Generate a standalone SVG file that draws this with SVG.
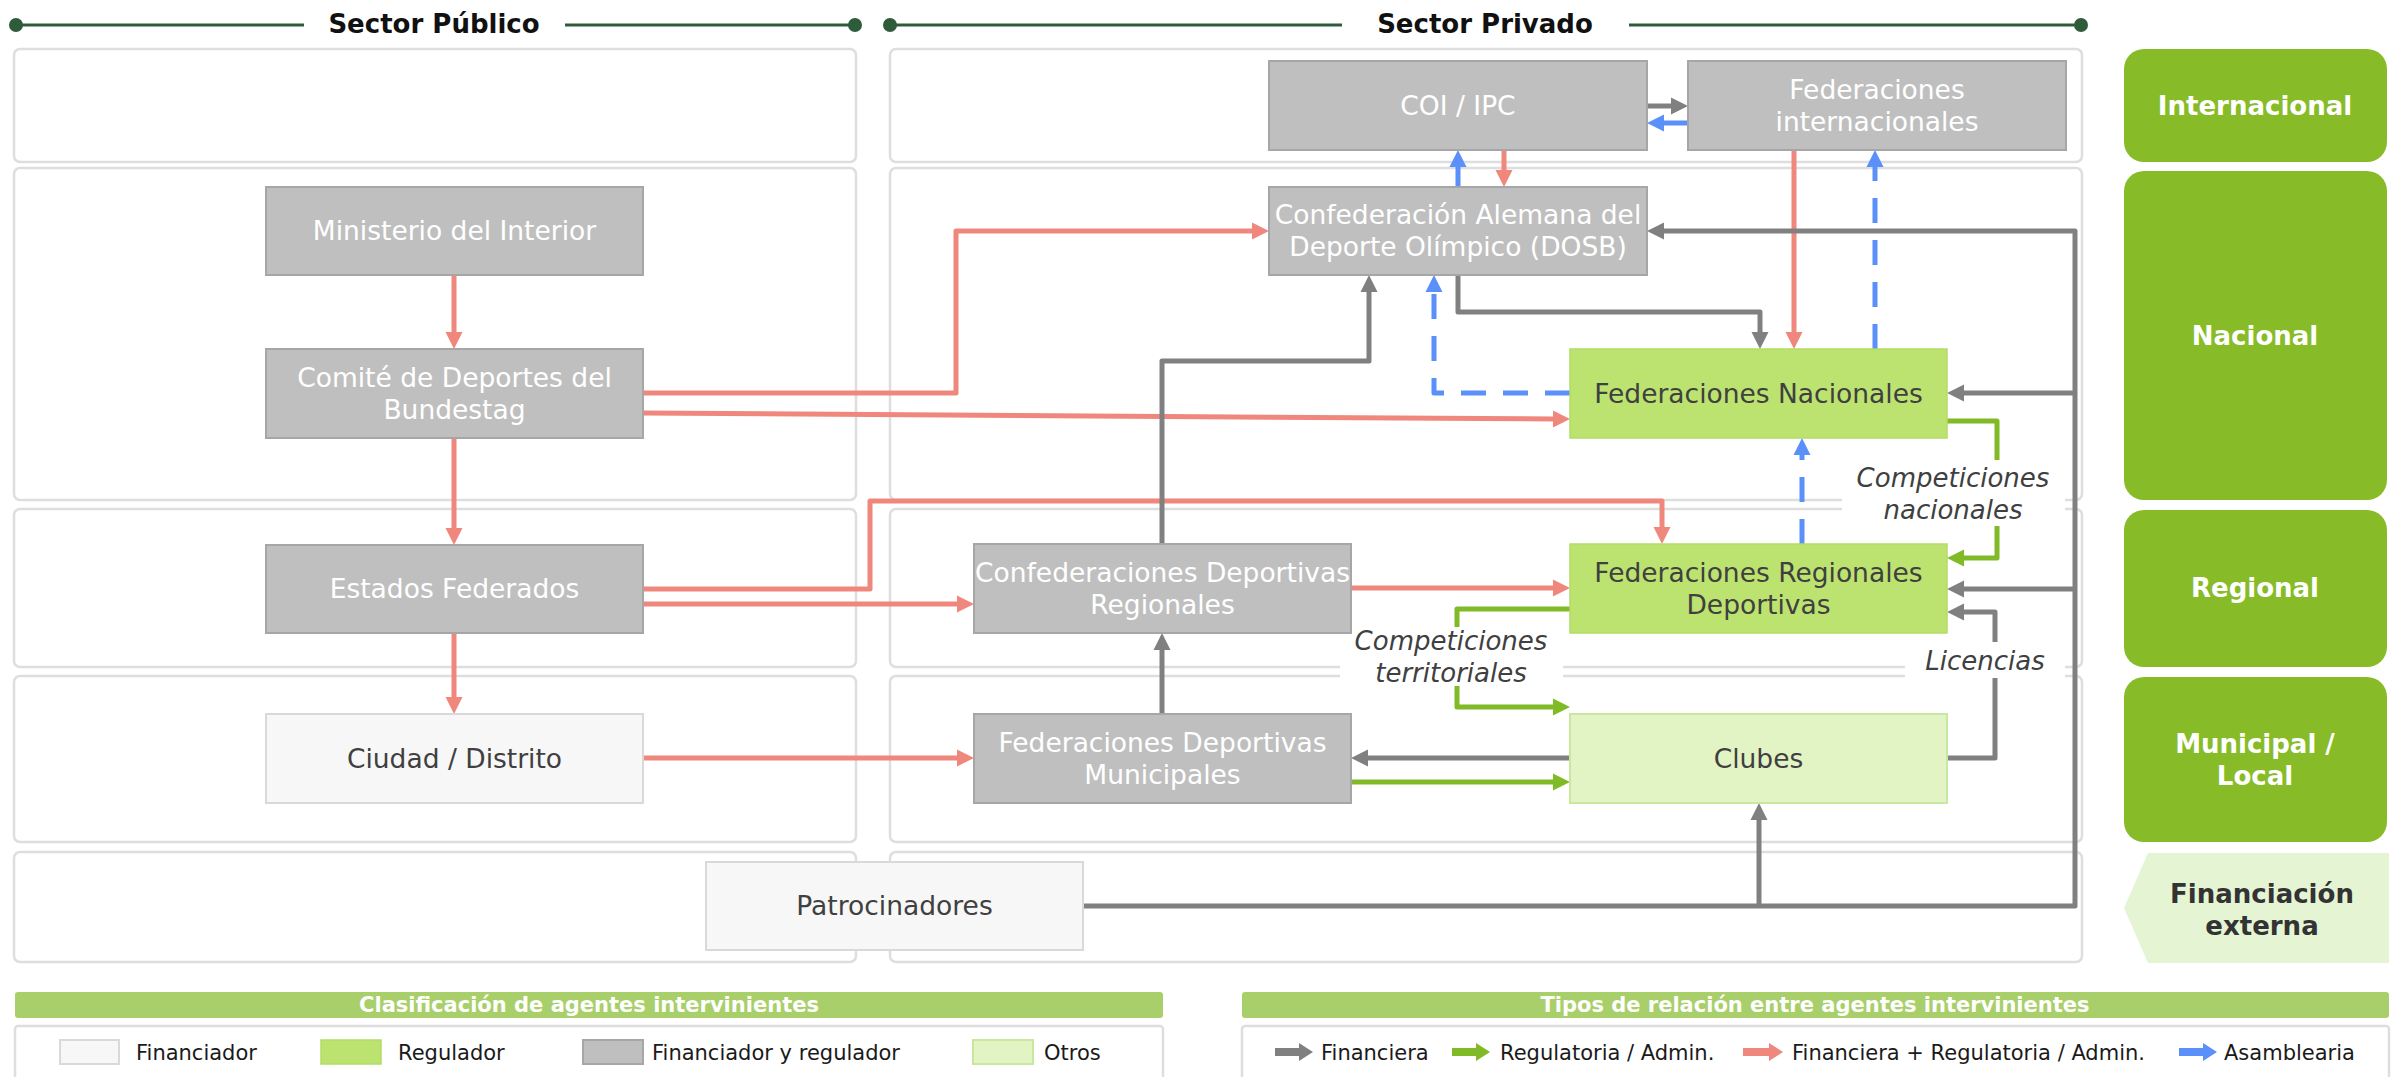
<svg xmlns="http://www.w3.org/2000/svg" width="2399" height="1077" viewBox="0 0 2399 1077">
<style>
text{font-family:"DejaVu Sans","Liberation Sans",sans-serif;}
.hdr{font-size:26px;font-weight:bold;fill:#111;text-anchor:middle;}
.hline{stroke:#2e5c3b;stroke-width:3;}
.hdot{fill:#2e5c3b;}
.sec{fill:#fff;stroke:#dedede;stroke-width:2.5;}
.n{font-size:26.5px;text-anchor:middle;}
.gr rect{fill:#bfbfbf;stroke:#a6a6a6;stroke-width:2;}
.gr text{fill:#fff;}
.fi rect{fill:#f7f7f7;stroke:#d9d9d9;stroke-width:2;}
.fi text{fill:#404040;}
.rg rect{fill:#bce36f;stroke:#b3dc66;stroke-width:1.5;}
.rg text{fill:#404040;}
.ot rect{fill:#e2f3c4;stroke:#c8e89f;stroke-width:2;}
.ot text{fill:#404040;}
.lvl{fill:#87bc28;}
.lvlt{font-size:26px;font-weight:bold;fill:#fff;text-anchor:middle;}
.c{fill:none;stroke-width:5;stroke-linejoin:round;}
.cg{stroke:#808080;}
.cr{stroke:#f0877d;}
.cn{stroke:#80ba27;}
.cb{stroke:#5b8ff9;stroke-dasharray:25 17;}
.lab{font-size:26px;font-style:italic;fill:#404040;text-anchor:middle;}
.lbg{fill:#fff;}
.legbar{fill:#a9cf6a;}
.legh{font-size:21px;font-weight:bold;fill:#fff;text-anchor:middle;}
.legt{font-size:21px;fill:#1a1a1a;}
</style>
<defs>
<marker id="ag" markerUnits="userSpaceOnUse" markerWidth="18" markerHeight="18" viewBox="0 0 18 18" refX="1" refY="9" orient="auto"><path d="M0,0.5 L17,9 L0,17.5 z" fill="#808080"/></marker>
<marker id="ar" markerUnits="userSpaceOnUse" markerWidth="18" markerHeight="18" viewBox="0 0 18 18" refX="1" refY="9" orient="auto"><path d="M0,0.5 L17,9 L0,17.5 z" fill="#f0877d"/></marker>
<marker id="an" markerUnits="userSpaceOnUse" markerWidth="18" markerHeight="18" viewBox="0 0 18 18" refX="1" refY="9" orient="auto"><path d="M0,0.5 L17,9 L0,17.5 z" fill="#80ba27"/></marker>
<marker id="ab" markerUnits="userSpaceOnUse" markerWidth="18" markerHeight="18" viewBox="0 0 18 18" refX="1" refY="9" orient="auto"><path d="M0,0.5 L17,9 L0,17.5 z" fill="#5b8ff9"/></marker>
</defs>
<rect width="2399" height="1077" fill="#fff"/>

<g id="headers">
<line class="hline" x1="16" y1="25" x2="304" y2="25"/><circle class="hdot" cx="16" cy="25" r="7"/>
<text class="hdr" x="434" y="33">Sector Público</text>
<line class="hline" x1="565" y1="25" x2="855" y2="25"/><circle class="hdot" cx="855" cy="25" r="7"/>
<line class="hline" x1="890" y1="25" x2="1342" y2="25"/><circle class="hdot" cx="890" cy="25" r="7"/>
<text class="hdr" x="1485" y="33">Sector Privado</text>
<line class="hline" x1="1629" y1="25" x2="2081" y2="25"/><circle class="hdot" cx="2081" cy="25" r="7"/>
</g>

<g id="sections">
<rect class="sec" x="14" y="49" width="842" height="113" rx="6"/>
<rect class="sec" x="14" y="168" width="842" height="332" rx="6"/>
<rect class="sec" x="14" y="509" width="842" height="158" rx="6"/>
<rect class="sec" x="14" y="676" width="842" height="166" rx="6"/>
<rect class="sec" x="14" y="852" width="842" height="110" rx="6"/>
<rect class="sec" x="890" y="49" width="1192" height="113" rx="6"/>
<rect class="sec" x="890" y="168" width="1192" height="332" rx="6"/>
<rect class="sec" x="890" y="509" width="1192" height="158" rx="6"/>
<rect class="sec" x="890" y="676" width="1192" height="166" rx="6"/>
<rect class="sec" x="890" y="852" width="1192" height="110" rx="6"/>
</g>

<g id="levels">
<rect class="lvl" x="2124" y="49" width="263" height="113" rx="20"/>
<text class="lvlt" x="2255" y="115">Internacional</text>
<rect class="lvl" x="2124" y="171" width="263" height="329" rx="20"/>
<text class="lvlt" x="2255" y="345">Nacional</text>
<rect class="lvl" x="2124" y="510" width="263" height="157" rx="20"/>
<text class="lvlt" x="2255" y="597">Regional</text>
<rect class="lvl" x="2124" y="677" width="263" height="165" rx="20"/>
<text class="lvlt" x="2255" y="753">Municipal /</text>
<text class="lvlt" x="2255" y="785">Local</text>
<polygon points="2148,853 2389,853 2389,963 2148,963 2124,908" fill="#e5f5d3"/>
<text class="lvlt" x="2262" y="903" style="fill:#333">Financiación</text>
<text class="lvlt" x="2262" y="935" style="fill:#333">externa</text>
</g>

<g id="connectors">
<path class="c cr" d="M454,275 V333" marker-end="url(#ar)"/>
<path class="c cr" d="M454,438 V529" marker-end="url(#ar)"/>
<path class="c cr" d="M454,633 V698" marker-end="url(#ar)"/>
<path class="c cr" d="M643,393 H956 V231 H1253" marker-end="url(#ar)"/>
<path class="c cr" d="M643,413 L1554,419" marker-end="url(#ar)"/>
<path class="c cr" d="M643,589 H870 V501 H1662 V528" marker-end="url(#ar)"/>
<path class="c cr" d="M643,604 H958" marker-end="url(#ar)"/>
<path class="c cr" d="M643,758 H958" marker-end="url(#ar)"/>
<path class="c cr" d="M1351,588 H1554" marker-end="url(#ar)"/>
<path class="c cr" d="M1504,150 V171" marker-end="url(#ar)"/>
<path class="c cr" d="M1794,150 V333" marker-end="url(#ar)"/>

<path class="c cg" d="M1647,106 H1672" marker-end="url(#ag)"/>
<path class="c cg" d="M1458,275 V312 H1760 V333" marker-end="url(#ag)"/>
<path class="c cg" d="M1162,544 V361 H1369 V291" marker-end="url(#ag)"/>
<path class="c cg" d="M1162,714 V649" marker-end="url(#ag)"/>
<path class="c cg" d="M1570,758 H1367" marker-end="url(#ag)"/>
<path class="c cg" d="M1947,758 H1995 V612 H1963" marker-end="url(#ag)"/>
<path class="c cg" d="M1083,906 H2075 V231 H1663" marker-end="url(#ag)"/>
<path class="c cg" d="M2075,393 H1963" marker-end="url(#ag)"/>
<path class="c cg" d="M2075,589 H1963" marker-end="url(#ag)"/>
<path class="c cg" d="M1759,906 V819" marker-end="url(#ag)"/>

<path class="c cn" d="M1947,421 H1997 V558 H1963" marker-end="url(#an)"/>
<path class="c cn" d="M1570,609 H1457 V707 H1554" marker-end="url(#an)"/>
<path class="c cn" d="M1351,782 H1554" marker-end="url(#an)"/>

<path class="c cb" d="M1688,123 H1663" marker-end="url(#ab)"/>
<path class="c cb" d="M1458,187 V166" marker-end="url(#ab)"/>
<path class="c cb" d="M1570,393 H1434 V291" marker-end="url(#ab)"/>
<path class="c cb" d="M1875,349 V166" marker-end="url(#ab)"/>
<path class="c cb" d="M1802,544 V454" marker-end="url(#ab)"/>
</g>

<g id="labels">
<rect class="lbg" x="1842" y="460" width="223" height="66"/>
<text class="lab" x="1953" y="487">Competiciones</text>
<text class="lab" x="1953" y="519">nacionales</text>
<rect class="lbg" x="1340" y="627" width="223" height="59"/>
<text class="lab" x="1451" y="650">Competiciones</text>
<text class="lab" x="1451" y="682">territoriales</text>
<rect class="lbg" x="1905" y="642" width="160" height="36"/>
<text class="lab" x="1985" y="670">Licencias</text>
</g>

<g id="n-ministerio" class="gr"><rect x="266" y="187" width="377" height="88"/><text class="n" x="454.5" y="240">Ministerio del Interior</text></g>
<g id="n-comite" class="gr"><rect x="266" y="349" width="377" height="89"/><text class="n" x="454.5" y="387">Comité de Deportes del</text><text class="n" x="454.5" y="419">Bundestag</text></g>
<g id="n-estados" class="gr"><rect x="266" y="545" width="377" height="88"/><text class="n" x="454.5" y="598">Estados Federados</text></g>
<g id="n-ciudad" class="fi"><rect x="266" y="714" width="377" height="89"/><text class="n" x="454.5" y="768">Ciudad / Distrito</text></g>
<g id="n-coi" class="gr"><rect x="1269" y="61" width="378" height="89"/><text class="n" x="1458" y="115">COI / IPC</text></g>
<g id="n-fedint" class="gr"><rect x="1688" y="61" width="378" height="89"/><text class="n" x="1877" y="99">Federaciones</text><text class="n" x="1877" y="131">internacionales</text></g>
<g id="n-dosb" class="gr"><rect x="1269" y="187" width="378" height="88"/><text class="n" x="1458" y="224">Confederación Alemana del</text><text class="n" x="1458" y="256">Deporte Olímpico (DOSB)</text></g>
<g id="n-fednac" class="rg"><rect x="1570" y="349" width="377" height="89"/><text class="n" x="1758.5" y="403">Federaciones Nacionales</text></g>
<g id="n-confreg" class="gr"><rect x="974" y="544" width="377" height="89"/><text class="n" x="1162.5" y="582">Confederaciones Deportivas</text><text class="n" x="1162.5" y="614">Regionales</text></g>
<g id="n-fedreg" class="rg"><rect x="1570" y="544" width="377" height="89"/><text class="n" x="1758.5" y="582">Federaciones Regionales</text><text class="n" x="1758.5" y="614">Deportivas</text></g>
<g id="n-fedmun" class="gr"><rect x="974" y="714" width="377" height="89"/><text class="n" x="1162.5" y="752">Federaciones Deportivas</text><text class="n" x="1162.5" y="784">Municipales</text></g>
<g id="n-clubes" class="ot"><rect x="1570" y="714" width="377" height="89"/><text class="n" x="1758.5" y="768">Clubes</text></g>
<g id="n-patro" class="fi"><rect x="706" y="862" width="377" height="88"/><text class="n" x="894.5" y="915">Patrocinadores</text></g>

<g id="legend-agentes">
<rect class="legbar" x="15" y="992" width="1148" height="26" rx="3"/>
<text class="legh" x="589" y="1012">Clasificación de agentes intervinientes</text>
<rect class="sec" x="15" y="1026" width="1148" height="70" rx="3"/>
<g class="fi"><rect x="60" y="1040" width="59" height="24"/></g>
<text class="legt" x="136" y="1060">Financiador</text>
<g class="rg"><rect x="321" y="1040" width="60" height="24"/></g>
<text class="legt" x="398" y="1060">Regulador</text>
<g class="gr"><rect x="583" y="1040" width="60" height="24"/></g>
<text class="legt" x="652" y="1060">Financiador y regulador</text>
<g class="ot"><rect x="973" y="1040" width="60" height="24"/></g>
<text class="legt" x="1044" y="1060">Otros</text>
</g>

<g id="legend-relaciones">
<rect class="legbar" x="1242" y="992" width="1147" height="26" rx="3"/>
<text class="legh" x="1815" y="1012">Tipos de relación entre agentes intervinientes</text>
<rect class="sec" x="1242" y="1026" width="1147" height="70" rx="3"/>
<path d="M1275,1048 H1299 V1043 L1313,1052 L1299,1061 V1056 H1275 z" fill="#808080"/>
<text class="legt" x="1321" y="1060">Financiera</text>
<path d="M1452,1048 H1476 V1043 L1490,1052 L1476,1061 V1056 H1452 z" fill="#80ba27"/>
<text class="legt" x="1500" y="1060">Regulatoria / Admin.</text>
<path d="M1743,1048 H1769 V1043 L1783,1052 L1769,1061 V1056 H1743 z" fill="#f0877d"/>
<text class="legt" x="1792" y="1060">Financiera + Regulatoria / Admin.</text>
<path d="M2179,1048 H2203 V1043 L2217,1052 L2203,1061 V1056 H2179 z" fill="#5b8ff9"/>
<text class="legt" x="2224" y="1060">Asamblearia</text>
</g>
</svg>
